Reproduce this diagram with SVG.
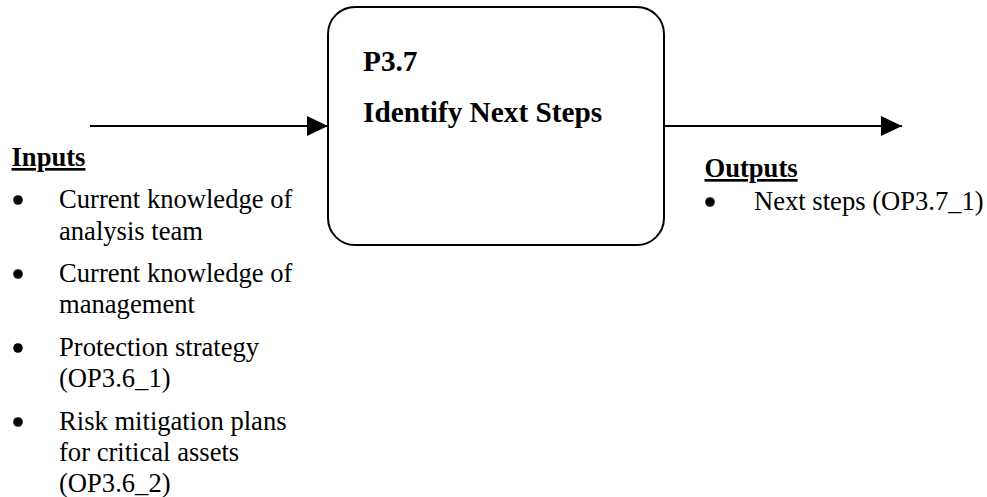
<svg xmlns="http://www.w3.org/2000/svg" width="987" height="497" viewBox="0 0 987 497">
<defs>
<style>
.t{font-family:"Liberation Serif","Times New Roman",serif;font-size:26.6px;fill:#000}
.b{font-weight:bold}
.u{text-decoration:underline}
.h{font-family:"Liberation Serif","Times New Roman",serif;font-size:29.3px;font-weight:bold;fill:#000}
.ln{stroke:#000;stroke-width:2;fill:none}
</style>
<marker id="ah" markerWidth="21" markerHeight="20" refX="21" refY="10" orient="auto" markerUnits="userSpaceOnUse">
<path d="M0,0 L21,10 L0,20 Z" fill="#000"/>
</marker>
</defs>
<g id="connectors">
<line class="ln" x1="90" y1="126" x2="328" y2="126" marker-end="url(#ah)"/>
<line class="ln" x1="664" y1="126" x2="902" y2="126" marker-end="url(#ah)"/>
</g>
<g id="process">
<rect class="ln" x="328" y="7" width="336" height="238" rx="27" ry="27"/>
<text class="h" x="363" y="71">P3.7</text>
<text class="h" x="363" y="122">Identify Next Steps</text>
</g>
<g id="inputs">
<text class="t b u" x="11.5" y="166">Inputs</text>
<circle cx="18" cy="200" r="4.8"/>
<text class="t" x="59" y="208">Current knowledge of</text>
<text class="t" x="59" y="239.5">analysis team</text>
<circle cx="18" cy="274" r="4.8"/>
<text class="t" x="59" y="282">Current knowledge of</text>
<text class="t" x="59" y="313">management</text>
<circle cx="18" cy="348" r="4.8"/>
<text class="t" x="59" y="356">Protection strategy</text>
<text class="t" x="59" y="387">(OP3.6_1)</text>
<circle cx="18" cy="422" r="4.8"/>
<text class="t" x="59" y="430">Risk mitigation plans</text>
<text class="t" x="59" y="461">for critical assets</text>
<text class="t" x="59" y="492">(OP3.6_2)</text>
</g>
<g id="outputs">
<text class="t b u" x="704.5" y="177">Outputs</text>
<circle cx="710" cy="202" r="4.8"/>
<text class="t" x="754" y="210">Next steps (OP3.7_1)</text>
</g>
</svg>
